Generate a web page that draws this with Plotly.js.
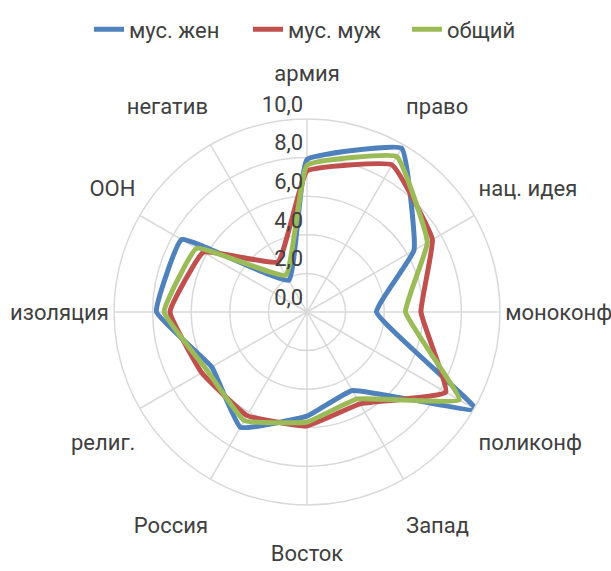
<!DOCTYPE html>
<html>
<head>
<meta charset="utf-8">
<script src="https://cdn.plot.ly/plotly-3.0.1.min.js"></script>
<style>html,body{margin:0;padding:0;background:#fff;}#chart{width:611px;height:571px;}</style>
</head>
<body>
<div id="chart"></div>
<script>
const categories = ['армия','право','нац. идея','моноконф','поликонф','Запад','Восток','Россия','религ.','изоляция','ООН','негатив'];
const seriesNames = ['мус. жен','мус. муж','общий'];
const womenValues = [7.9, 9.8, 6.4, 3.6, 10.1, 4.7, 5.4, 6.9, 5.7, 7.8, 7.5, 1.9];
const menValues   = [7.3, 8.8, 7.5, 5.9, 8.3, 5.5, 5.9, 6.2, 6.3, 7.1, 6.2, 3.0];
const totalValues = [7.6, 9.3, 7.2, 5.1, 9.1, 5.2, 5.7, 6.5, 6.0, 7.4, 6.6, 2.2];
const radialTicks = [0, 2, 4, 6, 8, 10];
const radialTickText = ['0,0','2,0','4,0','6,0','8,0','10,0'];

const colors = ['#4F81BD','#C0504D','#9BBB59'];
const allValues = [womenValues, menValues, totalValues];

function closed(a){ return a.concat([a[0]]); }

// blank lines push the category labels outwards, as placed in the original
const padTop = {'армия':1, 'право':1, 'негатив':1, 'нац. идея':1, 'ООН':1};
const padBottom = {'Восток':1, 'Запад':1, 'Россия':1, 'поликонф':1, 'религ.':1};
const angularTickText = categories.map(c => {
  if (padTop[c]) return c + '<br> '.repeat(padTop[c]);
  if (padBottom[c]) return ' <br>'.repeat(padBottom[c]) + c;
  return c;
});
// radial tick labels sit just above their ring
const radialTickLabels = radialTickText.map(t => t + '<br> ');

const traces = allValues.map((vals, i) => ({
  type: 'scatterpolar',
  r: closed(vals),
  theta: closed(categories),
  name: seriesNames[i],
  mode: 'lines',
  cliponaxis: false,
  line: {color: colors[i], width: 5, shape: 'spline', smoothing: 0.3},
  hoverinfo: 'skip'
}));

const textColor = '#404040';
const gridColor = '#D9D9D9';

const layout = {
  width: 611, height: 571,
  margin: {l: 0, r: 0, t: 119, b: 66},
  paper_bgcolor: '#fff',
  font: {family: 'Roboto, Arial, sans-serif', size: 22, color: textColor},
  showlegend: true,
  legend: {orientation: 'h', x: 0.536, xanchor: 'center',
           yref: 'container', y: 0.985, yanchor: 'top', bgcolor: 'rgba(0,0,0,0)',
           font: {size: 22, color: textColor}, itemwidth: 30, entrywidth: 114},
  polar: {
    bgcolor: '#fff',
    domain: {x: [0.005, 1], y: [0, 1]},
    angularaxis: {
      type: 'category',
      categoryarray: categories,
      tickvals: categories,
      ticktext: angularTickText,
      direction: 'clockwise',
      rotation: 90,
      showline: true, linecolor: gridColor, linewidth: 1.5,
      showgrid: true, gridcolor: gridColor, gridwidth: 1.5,
      ticks: '',
      tickfont: {size: 22, color: textColor}
    },
    radialaxis: {
      range: [0, 10],
      angle: 90,
      side: 'counterclockwise',
      tickvals: radialTicks,
      ticktext: radialTickLabels,
      tickangle: 90,
      showline: false,
      ticks: '',
      showgrid: true, gridcolor: gridColor, gridwidth: 1.5,
      tickfont: {size: 22, color: textColor}
    }
  }
};

Plotly.newPlot('chart', traces, layout, {displayModeBar: false, staticPlot: true});
</script>
</body>
</html>
